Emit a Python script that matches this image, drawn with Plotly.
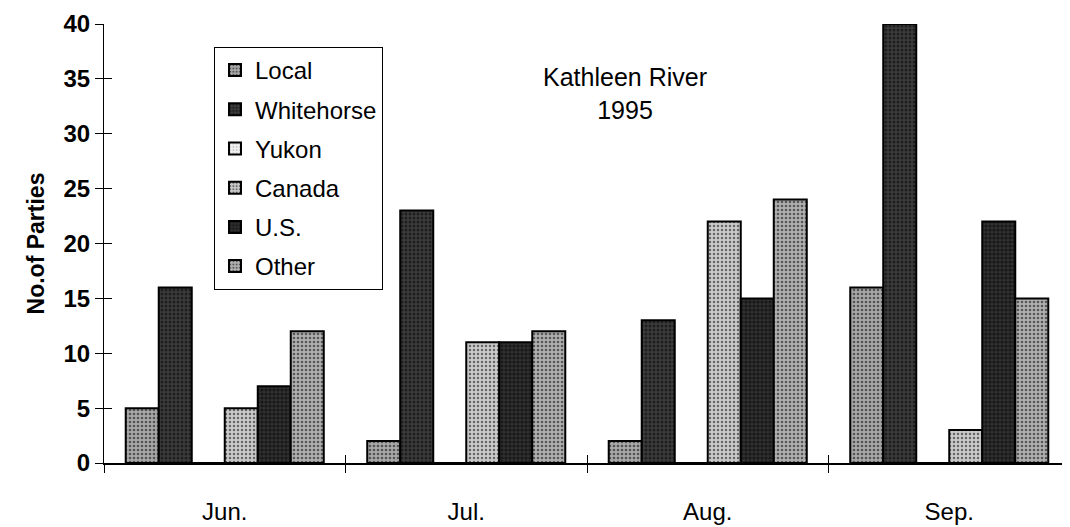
import plotly.graph_objects as go

months = ["Jun.", "Jul.", "Aug.", "Sep."]
series_names = ["Local", "Whitehorse", "Yukon", "Canada", "U.S.", "Other"]
local = [5, 2, 2, 16]
whitehorse = [16, 23, 13, 40]
yukon = [0, 0, 0, 0]
canada = [5, 11, 22, 3]
us = [7, 11, 15, 22]
other = [12, 12, 24, 15]
y_ticks = [0, 5, 10, 15, 20, 25, 30, 35, 40]

values = [local, whitehorse, yukon, canada, us, other]
styles = [
    dict(bg="#a8a8a8", fg="#000000", sol=0.35),
    dict(bg="#3c3c3c", fg="#000000", sol=0.45),
    dict(bg="#f0f0f0", fg="#808080", sol=0.2),
    dict(bg="#cacaca", fg="#000000", sol=0.3),
    dict(bg="#303030", fg="#000000", sol=0.5),
    dict(bg="#b0b0b0", fg="#000000", sol=0.35),
]

FONT = "Arial, Liberation Sans, sans-serif"
W, H = 1062, 519
L, T, B = 96, 16, 64
PW, PH = W - L, H - T - B

fig = go.Figure()
for name, vals, st in zip(series_names, values, styles):
    fig.add_trace(go.Bar(
        name=name, x=months, y=vals, legendgroup=name,
        marker=dict(color=st["bg"], line=dict(color="black", width=2),
                    pattern=dict(shape=".", fgcolor=st["fg"], bgcolor=st["bg"],
                                 size=4, solidity=st["sol"])),
    ))

# empty helper trace so the overlay axes (inner half of crossing ticks) render
fig.add_trace(go.Scatter(x=[], y=[], xaxis="x2", yaxis="y2", showlegend=False,
                         hoverinfo="skip"))

fig.update_layout(
    width=W, height=H,
    margin=dict(l=L, r=0, t=T, b=B),
    paper_bgcolor="white", plot_bgcolor="white",
    barmode="group", bargap=0.18, bargroupgap=0,
    font=dict(family=FONT, size=24, color="black"),
    showlegend=True,
    legend=dict(x=(206 - L) / PW, y=(H - B - 39) / PH, xanchor="left", yanchor="top",
                bordercolor="black", borderwidth=1, bgcolor="white",
                font=dict(family=FONT, size=24, color="black"),
                traceorder="grouped", tracegroupgap=5,
                itemwidth=30),
    xaxis=dict(range=[-0.5, 3.5], showline=True, linecolor="black", linewidth=2,
               ticks="outside", tickson="boundaries", ticklen=8, tickcolor="black",
               tickwidth=1, ticklabelstandoff=26,
               tickfont=dict(family=FONT, size=24, color="black"),
               showgrid=False, zeroline=False, fixedrange=True),
    yaxis=dict(range=[0, 40], tickvals=y_ticks, showline=True, linecolor="black",
               linewidth=1, ticks="outside", ticklen=8, tickcolor="black",
               ticklabelstandoff=0,
               tickfont=dict(family=FONT, size=24, color="black", weight="bold"),
               title=dict(text="<b>No.of Parties</b>", standoff=12,
                          font=dict(family=FONT, size=23, color="black")),
               showgrid=False, zeroline=False, fixedrange=True),
    xaxis2=dict(overlaying="x", range=[-0.5, 3.5], tickvals=[0.5, 1.5, 2.5],
                ticks="inside", ticklen=8, tickcolor="black", showticklabels=False,
                showline=False, showgrid=False, zeroline=False, fixedrange=True),
    yaxis2=dict(overlaying="y", side="left", range=[0, 40], tickvals=y_ticks,
                ticks="inside", ticklen=8, tickcolor="black", showticklabels=False,
                showline=False, showgrid=False, zeroline=False, fixedrange=True),
)

fig.add_annotation(text="Kathleen River<br>1995", xref="paper", yref="paper",
                   x=(617 - L) / PW, y=(H - B - 86) / PH, xanchor="center",
                   yanchor="middle", showarrow=False, align="center",
                   font=dict(family=FONT, size=25, color="black"))

fig.write_html("out.html")
